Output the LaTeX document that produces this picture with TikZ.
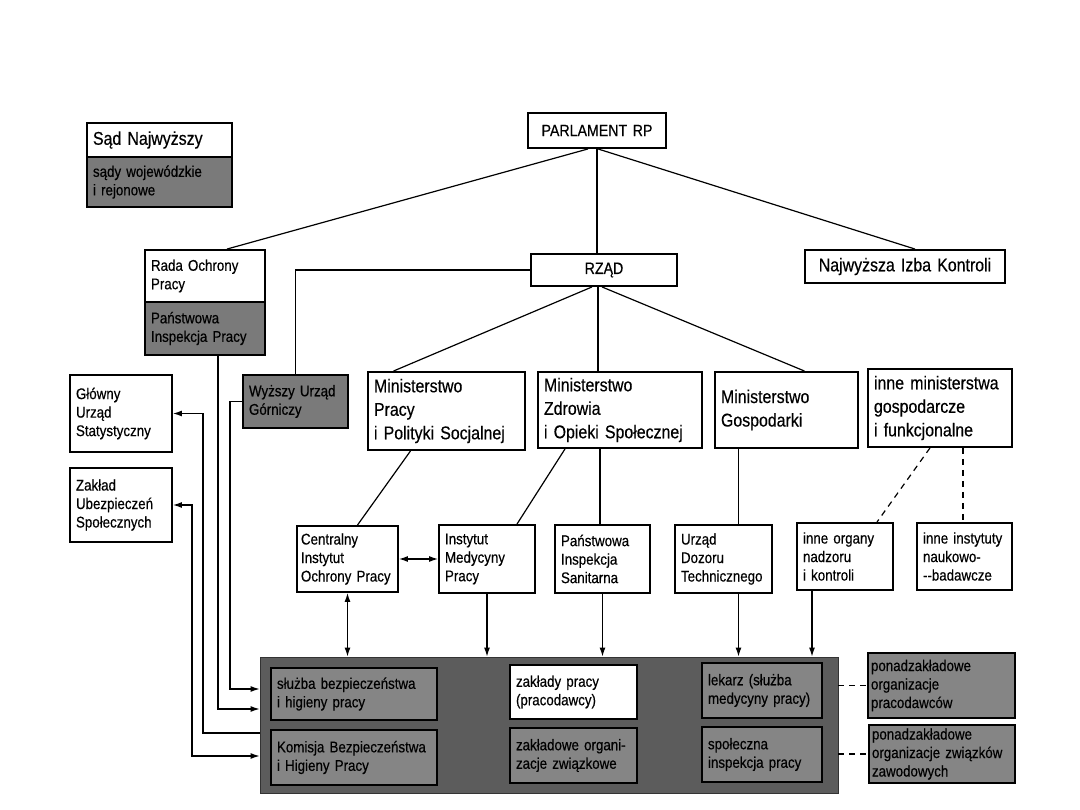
\documentclass[tikz,border=0pt]{standalone}
\usepackage{fontspec}
\setmainfont[FakeStretch=0.86,FakeBold=0.4]{Liberation Sans}
\usetikzlibrary{arrows.meta}
\colorlet{grA}{black!52}
\colorlet{grB}{black!64}
\colorlet{grC}{black!48}
\tikzset{
  box/.style={draw,line width=1.9pt,fill=#1,align=left,inner xsep=6pt,inner ysep=2pt,font=\fontsize{15.5}{18.5}\selectfont},
  box/.default={white},
  big/.style={box,font=\fontsize{18.5}{23.5}\selectfont},
  sz/.style 2 args={minimum width=#1pt,minimum height=#2pt,text width=#1pt-2*\pgfkeysvalueof{/pgf/inner xsep}},
  ln/.style={line width=1.2pt},
  dln/.style={line width=1.2pt,dash pattern=on 6pt off 5pt},
  arr/.style={-{Latex[length=9pt,width=6pt]},line width=1.2pt},
  darr/.style={{Latex[length=9pt,width=6pt]}-{Latex[length=9pt,width=6pt]},line width=1.2pt},
}

\begin{document}
\begin{tikzpicture}[x=1pt,y=-1pt]
 \fill[white] (0,0) rectangle (1080,810);
 \useasboundingbox (0,0) rectangle (1080,810);
 % top row
 \node[big,sz={145}{34}] (sad) at (159.5,140) {Sąd Najwyższy};
 \node[box=grA,sz={145}{50}] (sadw) at (159.5,182) {sądy wojewódzkie\\i rejonowe};
 \node[big,align=center,font=\fontsize{16.5}{19}\selectfont,sz={138}{35}] (parl) at (597,130.5) {PARLAMENT RP};
 \node[big,align=center,font=\fontsize{16.5}{19}\selectfont,sz={146}{32}] (rzad) at (604,270) {RZĄD};
 \node[big,align=center,sz={200}{33}] (nik) at (905,266.5) {Najwyższa Izba Kontroli};
 \node[box,sz={120}{52}] (rop) at (205,276) {Rada Ochrony\\Pracy};
 \node[box=grA,sz={120}{53}] (pip) at (205,328.5) {Państwowa\\Inspekcja Pracy};
 % ministries
 \node[box=grA,sz={105}{53}] (wug) at (295.5,401.5) {Wyższy Urząd\\Górniczy};
 \node[box,sz={102}{77}] (gus) at (121,413.5) {Główny\\Urząd\\Statystyczny};
 \node[box,sz={102}{74}] (zus) at (121,505) {Zakład\\Ubezpieczeń\\Społecznych};
 \node[big,sz={157}{78}] (mp) at (446.5,411) {Ministerstwo\\Pracy\\i Polityki Socjalnej};
 \node[big,sz={164}{76}] (mz) at (620,410) {Ministerstwo\\Zdrowia\\i Opieki Społecznej};
 \node[big,sz={143}{76}] (mg) at (786.5,410) {Ministerstwo\\Gospodarki};
 \node[big,sz={144}{78}] (mi) at (940,408) {inne ministerstwa\\gospodarcze\\i funkcjonalne};
 % institutes
 \node[box,inner xsep=4pt,sz={101}{66}] (ciop) at (347.5,559) {Centralny\\Instytut\\Ochrony~Pracy};
 \node[box,sz={96}{68}] (imp) at (487,559) {Instytut\\Medycyny\\Pracy};
 \node[box,sz={95}{68}] (pis) at (602.5,559) {Państwowa\\Inspekcja\\Sanitarna};
 \node[box,sz={97}{68}] (udt) at (723.5,559) {Urząd\\Dozoru\\Technicznego};
 \node[box,sz={96}{67}] (ino) at (845,556.5) {inne organy\\nadzoru\\i kontroli};
 \node[box,sz={95}{67}] (ini) at (964.5,556.5) {inne instytuty\\naukowo-\\-{}-badawcze};
 % workplace
 \node[draw=black!80,line width=0.8pt,fill=grB,minimum width=578pt,minimum height=136pt] (zp) at (549,725) {};
 \node[box=grC,sz={166}{52}] (bhp) at (354,694) {służba bezpieczeństwa\\i higieny pracy};
 \node[box=grC,sz={166}{55}] (kbhp) at (354,757.5) {Komisja Bezpieczeństwa\\i Higieny Pracy};
 \node[box,sz={127}{54}] (zakl) at (573.5,692) {zakłady pracy\\(pracodawcy)};
 \node[box=grC,sz={127}{55}] (zoz) at (573.5,755.5) {zakładowe organi-\\zacje związkowe};
 \node[box=grC,sz={120}{55}] (lek) at (762,690.5) {lekarz (służba\\medycyny pracy)};
 \node[box=grC,sz={120}{55}] (sip) at (762,754.5) {społeczna\\inspekcja pracy};
 \node[box=grC,inner xsep=3pt,sz={147}{65}] (pop) at (941.5,685.5) {ponadzakładowe\\organizacje\\pracodawców};
 \node[box=grC,inner xsep=3pt,sz={146}{58}] (pozz) at (942,754) {ponadzakładowe\\organizacje związków\\zawodowych};
 % connectors
 \draw[ln] ([xshift=-9pt]parl.south) -- ([xshift=22pt]rop.north);
 \draw[ln] (parl.south) -- (parl.south |- rzad.north);
 \draw[ln] ([xshift=1pt]parl.south) -- ([xshift=10pt]nik.north);
 \draw[ln] (rzad.west) -| (wug.north);
 \draw[ln] ([xshift=-12pt]rzad.south) -- ([xshift=-53pt]mp.north);
 \draw[ln] ([xshift=-6pt]rzad.south) -- ([xshift=-6pt]rzad.south |- mz.north);
 \draw[ln] ([xshift=-2pt]rzad.south) -- ([xshift=18pt]mg.north);
 \draw[ln] ([xshift=-36pt]mp.south) -- ([xshift=10pt]ciop.north);
 \draw[ln] ([xshift=-55pt]mz.south) -- ([xshift=30pt]imp.north);
 \draw[ln] ([xshift=-20pt]mz.south) -- ([xshift=-20pt]mz.south |- pis.north);
 \draw[ln] ([xshift=-48pt]mg.south) -- ([xshift=-48pt]mg.south |- udt.north);
 \draw[dln] ([xshift=-10pt]mi.south) -- ([xshift=32pt]ino.north);
 \draw[dln] ([xshift=23pt]mi.south) -- ([xshift=23pt]mi.south |- ini.north);
 \draw[darr] (ciop.east) -- (ciop.east -| imp.west);
 \draw[darr] (ciop.south) -- (ciop.south |- zp.north);
 \draw[arr] (imp.south) -- (imp.south |- zp.north);
 \draw[arr] (pis.south) -- (pis.south |- zp.north);
 \draw[arr] ([xshift=15pt]udt.south) -- ([xshift=15pt]udt.south |- zp.north);
 \draw[arr] ([xshift=-33pt]ino.south) -- ([xshift=-33pt]ino.south |- zp.north);
 \draw[dln] (pop.west -| zp.east) -- (pop.west);
 \draw[dln] (pozz.west -| zp.east) -- (pozz.west);
 % left side
 \draw[arr] (wug.west) -- ++(-12,0) |- ([yshift=36pt]zp.west);
 \draw[arr] ([xshift=13pt]pip.south) |- ([yshift=16pt]zp.west);
 \draw[arr] ([yshift=-8pt]zp.west) -| ([xshift=30pt]gus.east) -- (gus.east);
 \draw[darr] ([yshift=-31pt]zp.west) -| ([xshift=19pt]zus.east) -- (zus.east);
\end{tikzpicture}
\end{document}
